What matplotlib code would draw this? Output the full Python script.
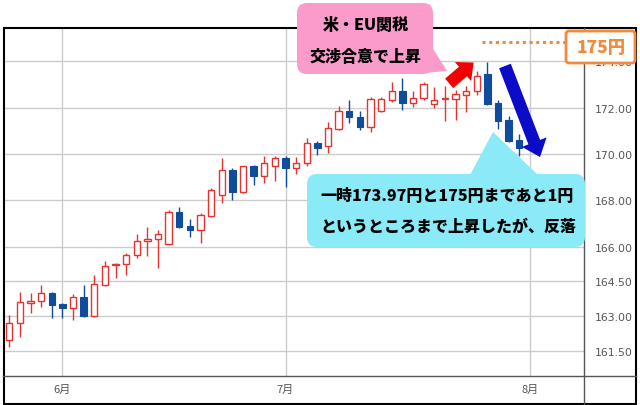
import numpy as np
import pandas as pd
import matplotlib
matplotlib.use('Agg')
import matplotlib.pyplot as plt
from matplotlib.patches import FancyBboxPatch, Polygon, Rectangle
from matplotlib.lines import Line2D
from matplotlib.transforms import Affine2D

plt.rcParams['font.family'] = ['Noto Sans CJK JP', 'DejaVu Sans']

# 日足 (2025/5/26 - 7/31)
dates = pd.bdate_range('2025-05-26', '2025-07-31')
opens = [161.96, 162.70, 163.57, 163.65, 163.99, 163.52, 163.34, 163.82, 163.00, 164.35,
         165.22, 165.24, 165.63, 166.23, 166.32, 166.12, 167.49, 166.89, 166.74, 167.34,
         168.23, 169.31, 168.35, 169.47, 169.04, 169.47, 169.84, 169.38, 169.60, 170.48,
         170.33, 171.08, 171.87, 171.58, 171.18, 171.84, 172.34, 172.71, 172.19, 172.40,
         172.14, 172.39, 172.37, 172.56, 172.71, 173.45, 172.19, 171.47, 170.60]
highs = [163.06, 164.05, 164.00, 164.35, 164.03, 163.55, 163.96, 164.35, 164.77, 165.37,
         165.28, 165.73, 166.54, 166.84, 166.71, 167.57, 167.71, 167.20, 167.46, 168.53,
         169.83, 169.38, 169.50, 169.53, 169.90, 169.93, 169.90, 169.86, 170.68, 170.57,
         171.39, 172.08, 172.33, 171.84, 172.47, 172.47, 173.09, 173.27, 172.71, 173.12,
         172.88, 172.95, 172.77, 172.95, 173.59, 173.97, 172.34, 171.63, 170.86]
lows = [161.69, 162.12, 163.14, 163.41, 162.91, 162.91, 162.85, 162.98, 162.98, 164.32,
        164.66, 164.77, 165.53, 165.61, 165.07, 166.09, 166.80, 166.43, 166.16, 167.27,
        167.89, 168.03, 168.31, 168.68, 168.75, 168.85, 168.59, 169.14, 169.47, 169.97,
        170.03, 171.05, 171.34, 171.04, 170.94, 171.80, 172.25, 171.91, 172.02, 172.33,
        171.99, 171.44, 171.47, 171.83, 172.56, 172.11, 171.08, 170.53, 169.90]
closes = [162.71, 163.60, 163.66, 163.99, 163.50, 163.34, 163.82, 163.00, 164.38, 165.16,
          165.26, 165.63, 166.23, 166.33, 166.54, 167.49, 166.84, 166.74, 167.37, 168.45,
          169.31, 168.35, 169.47, 169.04, 169.60, 169.84, 169.38, 169.60, 170.46, 170.27,
          171.11, 171.87, 171.58, 171.18, 172.37, 172.37, 172.71, 172.19, 172.40, 173.02,
          172.34, 172.41, 172.58, 172.71, 173.35, 172.16, 171.44, 170.57, 170.26]

month_starts = ['2025-06-02', '2025-07-01', '2025-08-01']
month_labels = ['6月', '7月', '8月']
yticks = [161.5, 163, 164.5, 166, 168, 170, 172, 174]

red = '#E3342F'
blue = '#0F4C9C'
orange = '#F08A3C'

fig = plt.figure(figsize=(6.4, 4.06), dpi=100)
ax = fig.add_axes([4 / 640, 29 / 406, 580 / 640, 348 / 406])
ax.set_facecolor('none')
# pixel coords, origin top-left
px = Affine2D().scale(1 / 640, -1 / 406).translate(0, 1) + fig.transFigure

o = np.array(opens); h = np.array(highs); l = np.array(lows); c = np.array(closes)
x = np.arange(len(dates))
up = c >= o
cols = np.where(up, red, blue)
ax.vlines(x, l, h, colors=cols, lw=1, zorder=2)
bot = np.minimum(o, c)
hgt = np.maximum(np.abs(c - o), 0.03)
ax.bar(x[up], hgt[up], bottom=bot[up], width=0.6, facecolor='white', edgecolor=red, lw=1, zorder=3)
ax.bar(x[~up], hgt[~up], bottom=bot[~up], width=0.6, color=blue, edgecolor=blue, lw=0.8, zorder=3)

all_days = pd.bdate_range('2025-05-26', '2025-08-01')
tick_pos = all_days.get_indexer(pd.to_datetime(month_starts))

ax.set_xlim(-0.5, 54.09)
ax.set_ylim(160.42, 175.44)
ax.yaxis.tick_right()
ax.set_yticks(yticks)
ax.set_yticklabels([f'{v:.2f}' for v in yticks], family='DejaVu Sans')
ax.set_xticks(tick_pos)
ax.set_xticklabels(month_labels)
ax.tick_params(axis='y', length=0, pad=8, labelsize=7.8, labelcolor='#555555')
ax.tick_params(axis='x', length=0, pad=6, labelsize=8, labelcolor='#555555')
ax.grid(color='#CCCCCC', lw=1)
ax.set_axisbelow(True)
for s in ax.spines.values():
    s.set_visible(False)

# frame and axis lines
ax.add_artist(Line2D([3, 636], [377, 377], transform=px, color='#555555', lw=1, clip_on=False))
ax.add_artist(Line2D([584, 584], [29, 405], transform=px, color='#555555', lw=1, clip_on=False))
ax.add_patch(Rectangle((3.5, 29), 632.5, 376, transform=px, fill=False, ec='black', lw=1.5, clip_on=False))

# 175 line + box
ax.add_artist(Line2D([482, 566], [43, 43], transform=px, color=orange, lw=2.2,
                     linestyle=(0, (1, 1.2)), clip_on=False, zorder=5))
ax.add_patch(FancyBboxPatch((566, 32), 69, 32, boxstyle='round,pad=0,rounding_size=3', transform=px,
                            fc='white', ec=orange, lw=2, clip_on=False, zorder=6))
ax.text(601, 48, '175円', transform=px, ha='center', va='center', color=orange,
        fontsize=12.5, fontweight='heavy', zorder=7)

# pink callout
pink = '#FA9BCB'
ax.add_patch(FancyBboxPatch((297, 4), 136, 71, boxstyle='round,pad=0,rounding_size=10', transform=px,
                            fc=pink, ec='none', clip_on=False, zorder=6))
ax.add_patch(Polygon([(430, 45), (447, 72), (424, 74)], closed=True, transform=px,
                     fc=pink, ec='none', clip_on=False, zorder=6))
ax.text(366, 25, '米・EU関税', transform=px, ha='center', va='center', fontsize=11.5,
        fontweight='heavy', zorder=7)
ax.text(366, 57, '交渉合意で上昇', transform=px, ha='center', va='center', fontsize=11.5,
        fontweight='heavy', zorder=7)

# cyan callout
cyan = '#8AEAF7'
ax.add_patch(FancyBboxPatch((307, 175), 278, 73, boxstyle='round,pad=0,rounding_size=10', transform=px,
                            fc=cyan, ec='none', clip_on=False, zorder=6))
ax.add_patch(Polygon([(470, 176), (493, 133), (538, 176)], closed=True, transform=px,
                     fc=cyan, ec='none', clip_on=False, zorder=6))
ax.text(447, 196, '一時173.97円と175円まであと1円', transform=px, ha='center', va='center',
        fontsize=11.5, fontweight='heavy', zorder=7)
ax.text(448, 227, 'というところまで上昇したが、反落', transform=px, ha='center', va='center',
        fontsize=11.5, fontweight='heavy', zorder=7)

# arrows
ax.annotate('', xy=(43.7, 173.95), xytext=(41.4, 173.05), annotation_clip=False,
            arrowprops=dict(arrowstyle='simple,head_length=1.0,head_width=1.8,tail_width=0.9',
                            fc='#F00000', ec='none', shrinkA=0, shrinkB=0, mutation_scale=10), zorder=8)
ax.annotate('', xy=(49.95, 169.87), xytext=(46.65, 173.80), annotation_clip=False,
            arrowprops=dict(arrowstyle='simple,head_length=1.15,head_width=1.9,tail_width=0.9',
                            fc='#0B0BC8', ec='none', shrinkA=0, shrinkB=0, mutation_scale=10), zorder=8)

fig.savefig('out.png', dpi=100)
